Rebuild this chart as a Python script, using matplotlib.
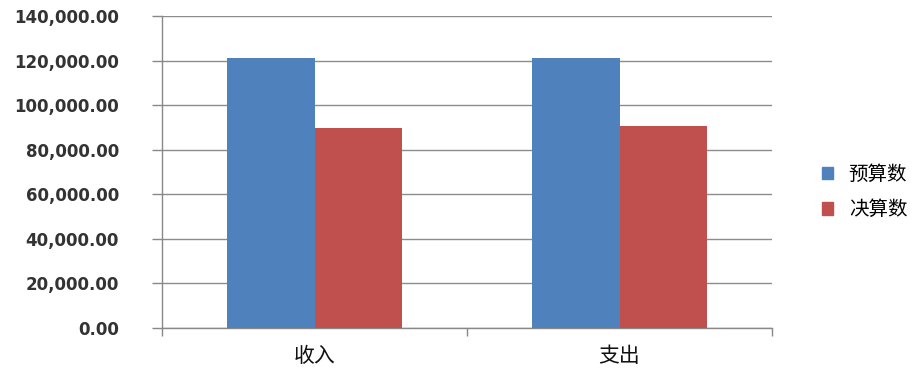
import matplotlib
matplotlib.use("Agg")
import matplotlib.pyplot as plt
import numpy as np
from matplotlib.ticker import FuncFormatter
from matplotlib.patches import Patch

categories = ["收入", "支出"]
series_names = ["预算数", "决算数"]
budget = [121000, 121000]
actual = [89700, 90700]
colors = ["#4F81BD", "#C0504D"]

plt.rcParams['font.family'] = ['DejaVu Sans', 'Noto Sans CJK SC']
cjk = ['Noto Sans CJK SC', 'DejaVu Sans']

fig = plt.figure(figsize=(9.15, 3.72), dpi=100)
ax = fig.add_axes([162/915, 1-328/372, (772-162)/915, (328-16)/372])

x = np.arange(len(categories))
w = 1/3.5
ax.bar(x - w/2, budget, w, color=colors[0], zorder=3)
ax.bar(x + w/2, actual, w, color=colors[1], zorder=3)

ax.set_xlim(-0.5, len(categories) - 0.5)
ax.set_ylim(0, 140000)
ax.set_yticks(np.arange(0, 140001, 20000))
ax.yaxis.set_major_formatter(FuncFormatter(lambda v, p: f"{v:,.2f}"))
ax.tick_params(axis='y', labelsize=12, labelcolor='#333333')
for lab in ax.get_yticklabels():
    lab.set_fontweight('bold')

ax.set_xticks(np.arange(-0.5, len(categories)))
ax.set_xticklabels([])
ax.set_xticks(x, minor=True)
ax.set_xticklabels(categories, minor=True, fontsize=15, family=cjk, color='#111111')
ax.tick_params(axis='x', which='minor', length=0, pad=12)
ax.tick_params(axis='x', which='major', length=6, color='#888888', width=1)
ax.tick_params(axis='y', length=7, color='#888888', width=1, pad=24)

ax.grid(axis='y', color='#8c8c8c', linewidth=1, zorder=0)
for s in ['top', 'right']:
    ax.spines[s].set_visible(False)
for s in ['left', 'bottom']:
    ax.spines[s].set_color('#888888')
    ax.spines[s].set_linewidth(1)

handles = [Patch(color=c) for c in colors]
fig.legend(handles, series_names, loc='center left',
           bbox_to_anchor=(804/915, 1-192/372), frameon=False,
           prop={'family': cjk, 'size': 14}, handlelength=0.6, handleheight=0.6,
           labelspacing=0.75, handletextpad=0.8)

fig.savefig("out.png", dpi=100)
